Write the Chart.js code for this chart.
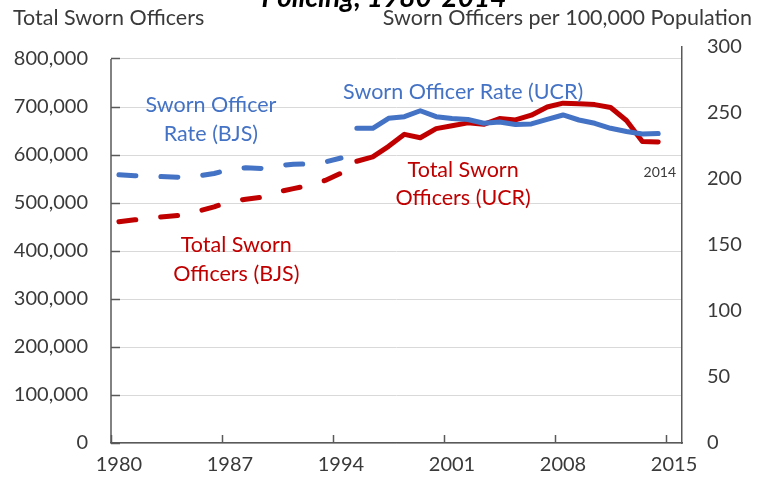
<!DOCTYPE html>
<html>
<head>
<meta charset="utf-8">
<title>Sworn officers, 1980-2014</title>
<script src="https://cdn.jsdelivr.net/npm/chart.js@4"></script>
<style>
  html, body { margin: 0; padding: 0; background: #fff; }
  #wrap { width: 757px; height: 480px; }
</style>
</head>
<body>
<div id="wrap"><canvas id="chart" width="757" height="480"></canvas></div>
<script>
// BJS estimates (dashed lines), 1980-1994
const bjsYears = [1980, 1981, 1982, 1983, 1984, 1985, 1986, 1987, 1988, 1989, 1990, 1991, 1992, 1993, 1994];
const bjsTotal = [461000, 465000, 469000, 472000, 475000, 483000, 492000, 503000, 508000, 512000, 523000, 530000, 537000, 547000, 562000];
const bjsRate = [203.2, 202.4, 202.0, 201.7, 201.3, 202.3, 204.2, 207.2, 208.5, 208.0, 210.2, 211.1, 211.4, 212.9, 215.9];

// UCR counts (solid lines), 1995-2014
const ucrYears = [1995, 1996, 1997, 1998, 1999, 2000, 2001, 2002, 2003, 2004, 2005, 2006, 2007, 2008, 2009, 2010, 2011, 2012, 2013, 2014];
const ucrTotal = [587000, 596000, 618000, 643000, 636000, 655000, 661000, 667000, 664000, 676000, 673000, 683000, 700000, 708000, 707000, 705000, 699000, 672000, 628000, 627000];
const ucrRate = [238.4, 238.4, 246.0, 247.2, 251.7, 247.2, 245.8, 245.1, 242.2, 243.2, 241.3, 241.7, 245.1, 248.5, 244.7, 242.2, 238.4, 236.0, 234.1, 234.5];

// axis ticks
const xTickYears = [1980, 1987, 1994, 2001, 2008, 2015];
const leftTicks = [0, 100000, 200000, 300000, 400000, 500000, 600000, 700000, 800000];
const rightTicks = [0, 50, 100, 150, 200, 250, 300];

const RED = '#c00000';
const BLUE = '#4472c4';
const TEXT = '#3a3a3a';
const AXIS = '#595959';

Chart.defaults.font.family = 'Lato, sans-serif';
Chart.defaults.font.size = 20;
Chart.defaults.color = TEXT;

function points(xs, ys) {
  return xs.map((x, i) => ({ x: x, y: ys[i] }));
}

// text put on the plot next to the lines (x in years, y in officers)
const seriesNotes = [
  { lines: ['Sworn Officer', 'Rate (BJS)'], color: BLUE, x: 1985.8, y: 704000 },
  { lines: ['Total Sworn', 'Officers (BJS)'], color: RED, x: 1987.4, y: 412000 },
  { lines: ['Sworn Officer Rate (UCR)'], color: BLUE, x: 2001.7, y: 731000 },
  { lines: ['Total Sworn', 'Officers (UCR)'], color: RED, x: 2001.7, y: 569000 }
];

const notesPlugin = {
  id: 'notes',
  afterDraw(chart) {
    const ctx = chart.ctx;
    const xs = chart.scales.x;
    const ys = chart.scales.y;
    const area = chart.chartArea;
    ctx.save();

    // left axis line only runs up to the 800,000 tick
    ctx.strokeStyle = AXIS;
    ctx.lineWidth = 1.5;
    ctx.beginPath();
    ctx.moveTo(area.left, ys.getPixelForValue(800000));
    ctx.lineTo(area.left, area.bottom);
    ctx.stroke();

    ctx.textAlign = 'center';
    ctx.textBaseline = 'middle';
    ctx.font = '21.5px Lato, sans-serif';
    for (const n of seriesNotes) {
      ctx.fillStyle = n.color;
      const cx = xs.getPixelForValue(n.x);
      const cy = ys.getPixelForValue(n.y);
      n.lines.forEach((t, i) => ctx.fillText(t, cx, cy + i * 28.5));
    }
    // end year marker
    ctx.fillStyle = TEXT;
    ctx.font = '14px Lato, sans-serif';
    ctx.fillText('2014', xs.getPixelForValue(2014.1), ys.getPixelForValue(564000));

    // headers
    ctx.font = '21.5px Lato, sans-serif';
    ctx.textAlign = 'left';
    ctx.fillText('Total Sworn Officers', 13, 18);
    ctx.textAlign = 'right';
    ctx.fillText('Sworn Officers per 100,000 Population', 752, 18);

    // title, mostly cut off at the top of the picture
    ctx.textAlign = 'center';
    ctx.textBaseline = 'alphabetic';
    ctx.font = 'italic bold 28px Lato, sans-serif';
    ctx.fillStyle = '#000';
    ctx.fillText('Policing, 1980-2014', 384, 7);
    ctx.restore();
  }
};

const config = {
  type: 'line',
  data: {
    datasets: [
      {
        label: 'Sworn Officer Rate (UCR)',
        data: points(ucrYears, ucrRate),
        yAxisID: 'y1',
        borderColor: BLUE,
        borderWidth: 5
      },
      {
        label: 'Total Sworn Officers (UCR)',
        data: points(ucrYears, ucrTotal),
        yAxisID: 'y',
        borderColor: RED,
        borderWidth: 5
      },
      {
        label: 'Sworn Officer Rate (BJS)',
        data: points(bjsYears, bjsRate),
        yAxisID: 'y1',
        borderColor: BLUE,
        borderWidth: 5,
        borderDash: [17, 25]
      },
      {
        label: 'Total Sworn Officers (BJS)',
        data: points(bjsYears, bjsTotal),
        yAxisID: 'y',
        borderColor: RED,
        borderWidth: 5,
        borderDash: [17, 25]
      }
    ]
  },
  options: {
    responsive: false,
    animation: false,
    devicePixelRatio: 1,
    layout: { padding: { top: 47, left: 0, right: 0, bottom: 0 } },
    elements: {
      point: { radius: 0, hoverRadius: 0 },
      line: { tension: 0, borderCapStyle: 'round', borderJoinStyle: 'round', fill: false }
    },
    plugins: {
      legend: { display: false },
      tooltip: { enabled: false }
    },
    scales: {
      x: {
        type: 'linear',
        min: 1979.5,
        max: 2015.5,
        afterBuildTicks: (scale) => {
          // tick marks sit between the years, labels on the years
          scale.ticks = xTickYears.map(v => ({ value: v - 0.5 }));
        },
        afterFit: (scale) => { scale.height = 37; },
        ticks: {
          callback: (v) => String(v + 0.5),
          labelOffset: 7.9,
          maxRotation: 0,
          autoSkip: false,
          padding: 18,
          color: TEXT
        },
        grid: {
          drawOnChartArea: false,
          drawTicks: true,
          tickLength: -8,
          tickColor: AXIS,
          tickWidth: 1.5
        },
        border: { color: AXIS, width: 1.5 }
      },
      y: {
        position: 'left',
        min: 0,
        max: 825000,
        afterBuildTicks: (scale) => {
          scale.ticks = leftTicks.map(v => ({ value: v }));
        },
        afterFit: (scale) => {
          scale.width = 111;
          // the big label padding should not push the plot area in
          scale.paddingTop = 12;
          scale.paddingBottom = 12;
        },
        ticks: {
          callback: (v) => v.toLocaleString('en-US'),
          padding: 32,
          color: TEXT
        },
        grid: {
          color: '#d9d9d9',
          lineWidth: 1,
          drawTicks: true,
          tickLength: -9,
          tickColor: AXIS,
          tickWidth: 1.5
        },
        border: { display: false }
      },
      y1: {
        position: 'right',
        min: 0,
        max: 300,
        afterBuildTicks: (scale) => {
          scale.ticks = rightTicks.map(v => ({ value: v }));
        },
        afterFit: (scale) => {
          scale.width = 75;
          scale.paddingTop = 12;
          scale.paddingBottom = 12;
        },
        ticks: { padding: 25, color: TEXT },
        grid: { drawOnChartArea: false, drawTicks: false },
        border: { color: AXIS, width: 1.5 }
      }
    }
  },
  plugins: [notesPlugin]
};

const chart = new Chart(document.getElementById('chart'), config);
</script>
</body>
</html>
